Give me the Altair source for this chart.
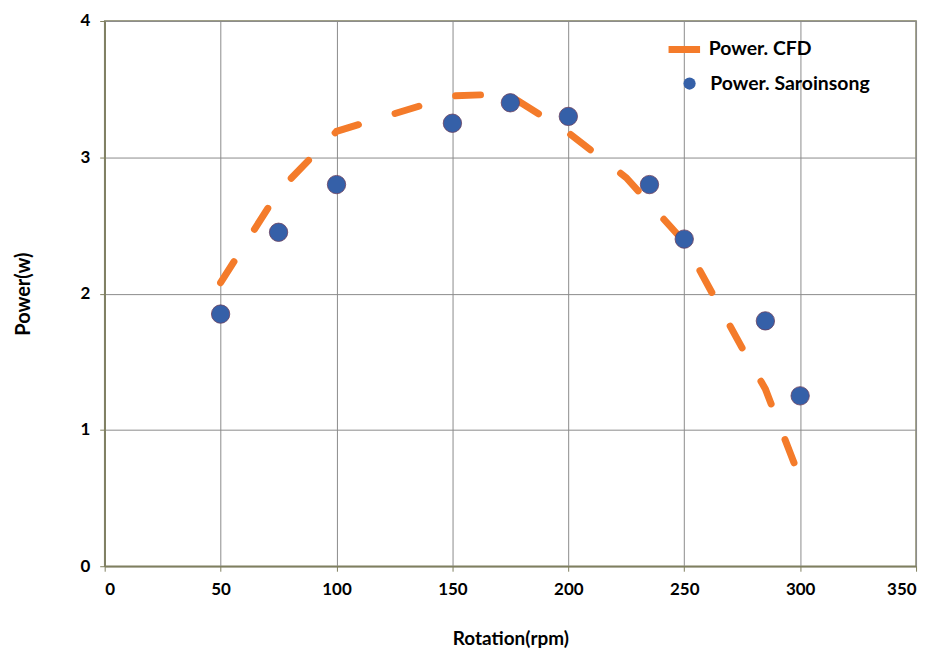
import altair as alt
import pandas as pd

# CFD curve (dashed orange)
cfd_rpm = [50, 75, 100, 150, 165, 175, 200, 225, 250, 275, 285, 298]
cfd_power = [2.08, 2.75, 3.19, 3.45, 3.46, 3.45, 3.18, 2.85, 2.38, 1.60, 1.30, 0.73]
# Saroinsong measurements (blue dots)
exp_rpm = [50, 75, 100, 150, 175, 200, 235, 250, 285, 300]
exp_power = [1.85, 2.45, 2.80, 3.25, 3.40, 3.30, 2.80, 2.40, 1.80, 1.25]

x_ticks = [0, 50, 100, 150, 200, 250, 300, 350]
y_ticks = [0, 1, 2, 3, 4]

ORANGE = "#F47B2A"
BLUE = "#3560A8"
FONT = "Lato"

cfd = pd.DataFrame({"rpm": cfd_rpm, "power": cfd_power, "series": "Power. CFD"})
exp = pd.DataFrame({"rpm": exp_rpm, "power": exp_power, "series": "Power. Saroinsong"})

x_enc = alt.X(
    "rpm:Q",
    scale=alt.Scale(domain=[0, 350], nice=False),
    axis=alt.Axis(values=x_ticks, title="Rotation(rpm)", labelPadding=10,
                  titlePadding=33, titleFontSize=19),
)
y_enc = alt.Y(
    "power:Q",
    scale=alt.Scale(domain=[0, 4], nice=False),
    axis=alt.Axis(values=y_ticks, title="Power(w)", labelPadding=10, titlePadding=47),
)

line = alt.Chart(cfd).mark_line(
    strokeWidth=7, strokeDash=[25, 38.4], strokeCap="round", clip=True
).encode(
    x=x_enc,
    y=y_enc,
    color=alt.Color(
        "series:N",
        scale=alt.Scale(domain=["Power. CFD"], range=[ORANGE]),
        legend=alt.Legend(
            title=None,
            orient="none",
            legendX=562,
            legendY=9,
            symbolType="stroke",
            symbolSize=1000,
            symbolStrokeWidth=7,
            labelOffset=5,
            labelLimit=400,
            padding=0,
        ),
    ),
)

points = alt.Chart(exp).mark_circle(
    size=340, opacity=1, stroke="#6a4060", strokeWidth=0.8
).encode(
    x=x_enc,
    y=y_enc,
    fill=alt.Fill(
        "series:N",
        scale=alt.Scale(domain=["Power. Saroinsong"], range=[BLUE]),
        legend=alt.Legend(
            title=None,
            orient="none",
            legendX=577,
            legendY=53,
            symbolType="circle",
            symbolSize=150,
            symbolStrokeWidth=0,
            labelOffset=11,
            labelLimit=400,
            padding=0,
        ),
    ),
)

chart = (
    alt.layer(line, points)
    .resolve_scale(color="independent", fill="independent")
    .properties(
        width=814,
        height=547,
        autosize=alt.AutoSizeParams(type="none"),
        padding={"left": 97, "top": 12, "right": 18, "bottom": 85},
        background="white",
    )
    .configure_view(stroke="#7f7f5f", strokeWidth=1.5)
    .configure_axis(
        grid=True,
        gridColor="#8c8c8c",
        gridWidth=1,
        domainColor="#7f7f5f",
        domainWidth=1.5,
        tickColor="#7f7f5f",
        tickSize=5,
        labelFont=FONT,
        labelFontSize=17,
        labelFontWeight="bold",
        labelColor="black",
        titleFont=FONT,
        titleFontSize=20,
        titleFontWeight="bold",
        titleColor="black",
    )
    .configure_legend(
        labelFont=FONT,
        labelFontSize=19.5,
        labelFontWeight="bold",
        labelColor="black",
    )
)

chart.save("out.html", embed_options={"renderer": "svg", "actions": False})
